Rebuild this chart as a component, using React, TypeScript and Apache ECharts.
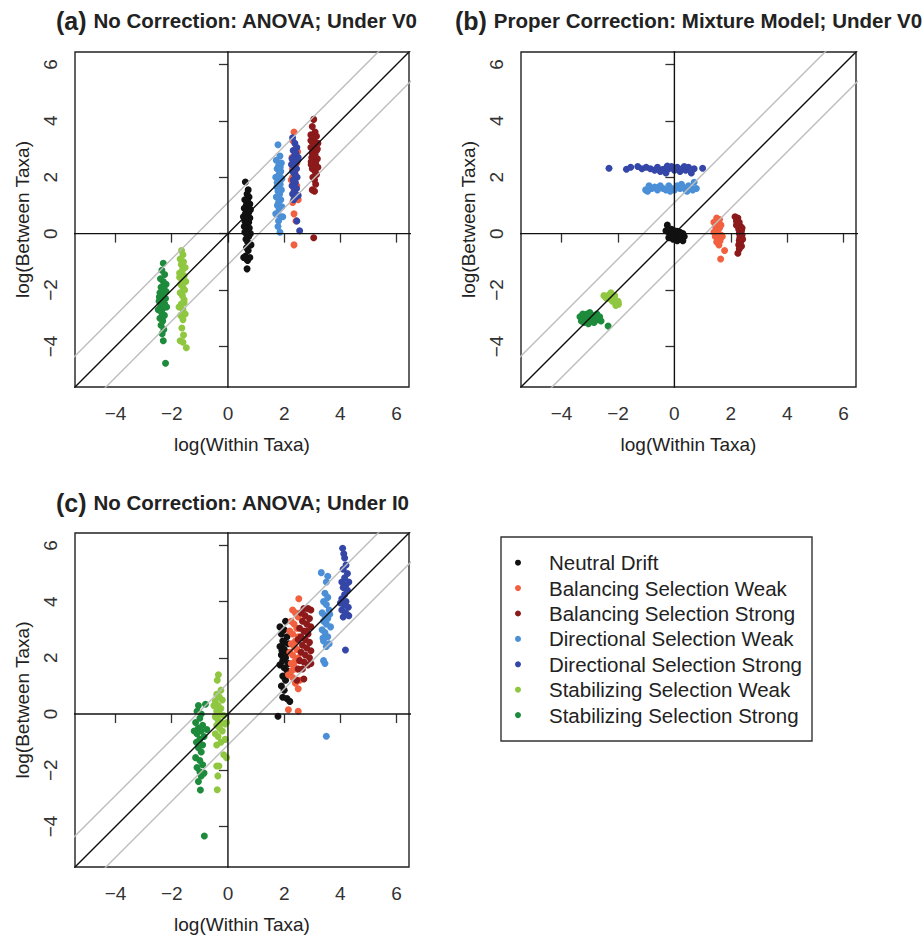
import React, { useEffect, useRef } from "react";
import * as echarts from "echarts";

const groupNames = [
  "Neutral Drift",
  "Balancing Selection Weak",
  "Balancing Selection Strong",
  "Directional Selection Weak",
  "Directional Selection Strong",
  "Stabilizing Selection Weak",
  "Stabilizing Selection Strong",
];
const groupColors = ["#111111", "#F1603F", "#8C1A1B", "#4B8FD6", "#3447A8", "#8FC741", "#1D8B3B"];

const tickValues = [-4, -2, 0, 2, 4, 6];
const axisMin = -5.44;
const axisMax = 6.44;

const panelTitles = [
  ["(a)", "No Correction: ANOVA; Under V0"],
  ["(b)", "Proper Correction: Mixture Model; Under V0"],
  ["(c)", "No Correction: ANOVA; Under I0"],
];
const xAxisName = "log(Within Taxa)";
const yAxisName = "log(Between Taxa)";

// reference lines (data coordinates, clipped by grid)
const diagLine = [[-8, -8], [8, 8]];
const upperLine = [[-8, -6.9], [8, 9.1]];
const lowerLine = [[-8, -9.1], [8, 6.9]];
const hLine = [[-8, 0], [8, 0]];
const vLine = [[0, -8], [0, 8]];

// ---------- Panel (a) ----------
const aNeutral = [[0.62,1.83],[0.72,1.55],[0.68,1.4],[0.75,1.3],[0.6,1.2],[0.7,1.15],[0.78,1.05],[0.65,1.0],[0.72,0.95],[0.58,0.9],[0.8,0.85],[0.66,0.8],[0.74,0.75],[0.62,0.7],[0.7,0.65],[0.55,0.6],[0.78,0.55],[0.68,0.5],[0.6,0.45],[0.74,0.4],[0.64,0.35],[0.7,0.3],[0.58,0.25],[0.76,0.2],[0.66,0.15],[0.72,0.1],[0.6,0.05],[0.8,0.0],[0.68,-0.05],[0.74,-0.1],[0.64,-0.2],[0.7,-0.3],[0.82,-0.4],[0.66,-0.5],[0.72,-0.6],[0.56,-0.85],[0.66,-0.9],[0.78,-0.85],[0.7,-0.95],[0.62,-0.8],[0.68,-1.25]];
const aBalWeak = [[2.35,3.6],[2.3,3.3],[2.4,3.0],[2.28,2.7],[2.45,2.5],[2.3,2.3],[2.4,2.1],[2.25,1.9],[2.45,1.7],[2.35,1.55],[2.4,1.4],[2.5,1.2],[2.3,1.1],[2.35,0.7],[2.42,0.45],[2.35,-0.4],[2.3,2.0],[2.48,2.9],[2.38,1.8],[2.32,2.55]];
const aBalStrong = [[3.05,4.05],[3.0,3.8],[3.1,3.6],[2.95,3.5],[3.15,3.45],[3.05,3.35],[3.0,3.25],[3.2,3.2],[3.1,3.1],[2.95,3.05],[3.05,3.0],[3.15,2.95],[3.0,2.85],[3.1,2.8],[2.98,2.7],[3.18,2.65],[3.05,2.6],[3.12,2.5],[2.96,2.45],[3.08,2.4],[3.2,2.35],[3.0,2.3],[3.1,2.2],[3.15,2.1],[3.02,2.0],[3.08,1.9],[3.12,1.75],[3.0,1.55],[3.08,1.5],[3.05,-0.15],[2.95,3.3],[3.18,3.0],[3.05,2.75],[2.96,2.55]];
const aDirWeak = [[1.78,3.15],[1.85,2.75],[1.72,2.6],[1.9,2.5],[1.8,2.4],[1.75,2.3],[1.88,2.2],[1.82,2.1],[1.7,2.0],[1.92,1.95],[1.8,1.85],[1.86,1.75],[1.74,1.65],[1.9,1.55],[1.78,1.5],[1.84,1.4],[1.72,1.3],[1.88,1.2],[1.8,1.1],[1.76,1.0],[1.92,0.95],[1.82,0.85],[1.7,0.7],[1.88,0.6],[1.8,0.45],[1.78,0.25],[1.85,0.05],[1.95,0.6],[1.75,1.8],[1.86,2.35]];
const aDirStrong = [[2.3,3.4],[2.38,3.2],[2.45,3.05],[2.32,2.95],[2.42,2.85],[2.36,2.75],[2.28,2.65],[2.48,2.6],[2.4,2.5],[2.34,2.4],[2.44,2.3],[2.3,2.2],[2.38,2.1],[2.46,2.0],[2.32,1.9],[2.4,1.8],[2.28,1.7],[2.44,1.6],[2.36,1.5],[2.3,1.4],[2.42,1.3],[2.34,1.2],[2.5,1.35],[2.45,0.45],[2.55,0.1],[2.5,2.7],[2.26,2.45]];
const aStabWeak = [[-1.65,-0.6],[-1.6,-0.75],[-1.7,-0.9],[-1.58,-1.0],[-1.66,-1.1],[-1.52,-1.2],[-1.62,-1.3],[-1.72,-1.4],[-1.56,-1.5],[-1.64,-1.6],[-1.5,-1.7],[-1.68,-1.8],[-1.6,-1.9],[-1.54,-2.0],[-1.7,-2.1],[-1.62,-2.2],[-1.56,-2.35],[-1.66,-2.5],[-1.74,-2.6],[-1.6,-2.7],[-1.52,-2.85],[-1.68,-2.9],[-1.6,-3.05],[-1.64,-3.35],[-1.58,-3.6],[-1.7,-3.8],[-1.6,-3.85],[-1.48,-4.05],[-1.56,-2.45],[-1.72,-1.55]];
const aStabStrong = [[-2.3,-1.05],[-2.35,-1.3],[-2.25,-1.45],[-2.4,-1.6],[-2.3,-1.7],[-2.2,-1.8],[-2.38,-1.9],[-2.28,-2.0],[-2.42,-2.1],[-2.32,-2.2],[-2.22,-2.3],[-2.45,-2.4],[-2.35,-2.45],[-2.25,-2.5],[-2.4,-2.6],[-2.3,-2.65],[-2.18,-2.6],[-2.48,-2.7],[-2.36,-2.8],[-2.26,-2.9],[-2.42,-3.0],[-2.32,-3.1],[-2.38,-3.25],[-2.28,-3.4],[-2.34,-3.55],[-2.3,-3.8],[-2.22,-4.6],[-2.44,-2.25],[-2.2,-2.05]];

// ---------- Panel (b) ----------
const bNeutral = [[-0.25,0.3],[-0.3,0.1],[-0.2,0.05],[-0.1,0.15],[0.0,0.1],[0.1,0.08],[0.2,0.05],[0.3,0.0],[-0.15,-0.05],[0.05,-0.1],[0.15,-0.12],[0.25,-0.2],[0.35,-0.1],[-0.05,-0.2],[0.1,-0.25],[-0.2,-0.15],[0.0,0.0],[0.2,-0.05],[0.3,-0.25],[-0.1,-0.1]];
const bBalWeak = [[1.5,0.55],[1.6,0.5],[1.4,0.4],[1.55,0.35],[1.45,0.25],[1.6,0.2],[1.5,0.1],[1.4,0.05],[1.55,0.0],[1.65,-0.05],[1.45,-0.1],[1.55,-0.15],[1.62,-0.25],[1.5,-0.3],[1.58,-0.4],[1.7,-0.1],[1.65,0.3],[1.78,-0.6],[1.64,-0.9],[1.48,0.45]];
const bBalStrong = [[2.15,0.6],[2.25,0.55],[2.2,0.45],[2.3,0.4],[2.25,0.3],[2.35,0.25],[2.28,0.15],[2.38,0.1],[2.3,0.0],[2.4,-0.05],[2.32,-0.15],[2.42,-0.2],[2.35,-0.3],[2.28,-0.4],[2.38,-0.45],[2.3,-0.55],[2.25,-0.7],[2.2,0.3],[2.4,0.2],[2.3,-0.25]];
const bDirWeak = [[-1.02,1.55],[-0.9,1.7],[-0.8,1.6],[-0.7,1.65],[-0.6,1.55],[-0.5,1.7],[-0.4,1.6],[-0.3,1.55],[-0.2,1.7],[-0.1,1.6],[0.0,1.55],[0.1,1.7],[0.2,1.6],[0.3,1.65],[0.4,1.55],[0.5,1.7],[0.6,1.6],[0.7,1.82],[0.78,1.6],[-0.95,1.5],[-0.55,1.65],[-0.15,1.5],[0.25,1.75],[0.45,1.5],[0.65,1.55]];
const bDirStrong = [[-2.32,2.32],[-1.7,2.28],[-1.55,2.35],[-1.3,2.38],[-1.15,2.3],[-1.0,2.35],[-0.85,2.3],[-0.7,2.25],[-0.6,2.35],[-0.5,2.2],[-0.4,2.28],[-0.3,2.15],[-0.2,2.3],[-0.1,2.38],[0.0,2.25],[0.1,2.35],[0.2,2.2],[0.3,2.32],[0.4,2.25],[0.5,2.35],[0.6,2.15],[0.7,2.3],[1.0,2.32],[-0.25,2.4],[0.35,2.38]];
const bStabWeak = [[-2.45,-2.25],[-2.35,-2.2],[-2.25,-2.1],[-2.3,-2.3],[-2.15,-2.25],[-2.2,-2.4],[-2.1,-2.35],[-2.05,-2.45],[-2.0,-2.4],[-1.98,-2.5],[-2.4,-2.3],[-2.28,-2.15],[-2.12,-2.2],[-2.18,-2.35],[-2.08,-2.55],[-2.5,-2.2]];
const bStabStrong = [[-3.35,-2.95],[-3.25,-2.85],[-3.15,-3.0],[-3.1,-2.85],[-3.0,-2.95],[-2.95,-3.1],[-2.9,-2.9],[-2.8,-3.0],[-2.7,-3.05],[-2.65,-2.95],[-3.2,-3.15],[-3.05,-3.2],[-2.85,-3.15],[-3.3,-3.1],[-2.35,-3.28],[-2.6,-3.1],[-3.0,-2.8],[-2.75,-2.85]];

// ---------- Panel (c) ----------
const cNeutral = [[1.85,3.1],[2.05,3.3],[2.0,3.0],[1.9,2.85],[2.1,2.75],[1.95,2.6],[2.15,2.5],[1.85,2.4],[2.0,2.3],[2.1,2.2],[1.9,2.1],[2.05,2.0],[1.95,1.9],[2.15,1.8],[1.85,1.75],[2.0,1.65],[2.1,1.55],[2.2,1.45],[1.95,1.35],[2.05,1.2],[1.9,1.0],[2.0,0.85],[1.95,0.6],[2.1,0.55],[2.2,0.45],[1.78,-0.08],[2.0,2.55],[1.92,2.25]];
const cBalWeak = [[2.52,4.1],[2.3,3.7],[2.4,3.6],[2.5,3.45],[2.25,3.3],[2.35,3.2],[2.45,3.05],[2.2,2.95],[2.3,2.85],[2.5,2.75],[2.4,2.6],[2.25,2.5],[2.35,2.4],[2.45,2.3],[2.2,2.2],[2.3,2.1],[2.5,2.0],[2.4,1.9],[2.25,1.8],[2.35,1.7],[2.45,1.6],[2.15,1.4],[2.3,1.3],[2.55,1.2],[2.4,1.1],[2.5,0.9],[2.15,0.15],[2.5,0.1],[2.28,1.55]];
const cBalStrong = [[2.7,3.75],[2.85,3.75],[2.95,3.7],[2.6,3.6],[2.75,3.5],[2.9,3.4],[2.65,3.3],[2.8,3.2],[2.95,3.1],[2.55,3.05],[2.7,2.95],[2.85,2.85],[2.6,2.75],[2.75,2.65],[2.9,2.55],[2.65,2.45],[2.8,2.35],[2.95,2.25],[2.6,2.2],[2.75,2.1],[2.9,2.0],[2.55,1.9],[2.7,1.85],[2.85,1.75],[2.65,1.6],[2.95,1.8],[2.5,1.6],[2.7,1.25],[2.45,1.2],[2.8,2.95],[2.5,2.65]];
const cDirWeak = [[3.32,5.03],[3.55,4.9],[3.5,4.7],[3.45,4.3],[3.55,4.15],[3.4,4.0],[3.5,3.9],[3.6,3.7],[3.35,3.6],[3.45,3.5],[3.55,3.4],[3.4,3.3],[3.5,3.2],[3.65,3.1],[3.35,3.0],[3.45,2.9],[3.55,2.75],[3.4,2.6],[3.6,2.5],[3.5,2.4],[3.4,1.9],[3.45,1.8],[3.5,-0.79],[3.62,3.55],[3.38,2.7]];
const cDirStrong = [[4.08,5.9],[4.12,5.7],[4.15,5.55],[4.2,5.3],[4.1,5.15],[4.25,5.0],[4.15,4.85],[4.05,4.7],[4.2,4.6],[4.1,4.5],[4.25,4.4],[4.15,4.25],[4.05,4.1],[4.2,4.0],[4.12,3.9],[4.28,3.8],[4.05,3.7],[4.18,3.6],[4.3,3.5],[4.1,3.45],[4.22,3.55],[4.0,3.95],[4.18,2.28],[4.3,4.7]];
const cStabWeak = [[-0.34,1.4],[-0.38,1.2],[-0.25,0.85],[-0.4,0.7],[-0.3,0.6],[-0.2,0.5],[-0.45,0.45],[-0.35,0.3],[-0.25,0.2],[-0.4,0.1],[-0.3,0.0],[-0.15,-0.05],[-0.45,-0.1],[-0.35,-0.2],[-0.25,-0.3],[-0.1,-0.35],[-0.4,-0.4],[-0.3,-0.5],[-0.2,-0.6],[-0.45,-0.7],[-0.35,-0.8],[-0.1,-0.9],[-0.25,-1.0],[-0.4,-1.1],[-0.15,-1.45],[-0.05,-1.55],[-0.32,-1.85],[-0.4,-1.85],[-0.36,-2.2],[-0.38,-2.69],[-0.05,-0.3],[-0.5,0.3]];
const cStabStrong = [[-1.05,0.3],[-0.8,0.35],[-1.1,0.1],[-0.95,0.0],[-1.0,-0.15],[-1.15,-0.3],[-0.9,-0.4],[-1.05,-0.5],[-0.95,-0.6],[-1.1,-0.7],[-0.85,-0.8],[-1.0,-0.9],[-1.12,-1.0],[-0.9,-1.1],[-1.05,-1.2],[-0.95,-1.35],[-1.15,-1.55],[-1.0,-1.65],[-0.9,-1.8],[-1.1,-1.9],[-1.0,-2.05],[-0.85,-2.1],[-0.95,-2.2],[-1.05,-2.4],[-0.98,-2.7],[-0.84,-4.34],[-1.2,-0.6],[-0.75,-0.55]];

const panels = [
  [aNeutral, aBalWeak, aBalStrong, aDirWeak, aDirStrong, aStabWeak, aStabStrong],
  [bNeutral, bBalWeak, bBalStrong, bDirWeak, bDirStrong, bStabWeak, bStabStrong],
  [cNeutral, cBalWeak, cBalStrong, cDirWeak, cDirStrong, cStabWeak, cStabStrong],
];

const FONT = "'Liberation Sans', Arial, Helvetica, sans-serif";

// layout
const grids = [
  { left: 75, top: 52, width: 334, height: 335 },
  { left: 521, top: 52, width: 335, height: 335 },
  { left: 75, top: 533, width: 334, height: 335 },
];
const titlePos = [
  { left: 56, top: 8 },
  { left: 455, top: 8 },
  { left: 56, top: 490 },
];

export default function App() {
  const ref = useRef<HTMLDivElement>(null);
  useEffect(() => {
    if (!ref.current) return;
    const chart = echarts.init(ref.current, null, { renderer: "svg" });

    const fmt = (v: number) => (v < 0 ? "\u2212" + Math.abs(v) : String(v));
    const xAxes: any[] = [];
    const yAxes: any[] = [];
    const series: any[] = [];
    grids.forEach((_, i) => {
      const common = {
        gridIndex: i,
        type: "value",
        min: axisMin,
        max: axisMax,
        nameLocation: "middle",
        nameTextStyle: { fontFamily: FONT, fontSize: 19, color: "#222" },
        axisLine: { show: false },
        splitLine: { show: false },
        axisTick: {
          show: true,
          length: 9,
          inside: false,
          customValues: tickValues,
          lineStyle: { color: "#333", width: 1.3 },
        },
      };
      xAxes.push({
        ...common,
        name: xAxisName,
        nameGap: 48,
        axisLabel: {
          customValues: tickValues,
          fontFamily: FONT,
          fontSize: 19,
          color: "#333",
          margin: 17,
          formatter: fmt,
        },
      });
      yAxes.push({
        ...common,
        name: yAxisName,
        nameGap: 43,
        axisLabel: {
          customValues: tickValues,
          rotate: 90,
          fontFamily: FONT,
          fontSize: 19,
          color: "#333",
          margin: 15,
          formatter: fmt,
        },
      });
      panels[i].forEach((pts, g) => {
        series.push({
          type: "scatter",
          name: groupNames[g],
          xAxisIndex: i,
          yAxisIndex: i,
          data: pts,
          symbol: "circle",
          symbolSize: 7,
          itemStyle: { color: groupColors[g], opacity: 1 },
          silent: true,
        });
      });
      const refs = [
        { d: upperLine, c: "#BDBDBD" },
        { d: lowerLine, c: "#BDBDBD" },
        { d: hLine, c: "#111" },
        { d: vLine, c: "#111" },
        { d: diagLine, c: "#111" },
      ];
      refs.forEach((r) => {
        series.push({
          type: "line",
          xAxisIndex: i,
          yAxisIndex: i,
          data: r.d,
          symbol: "none",
          clip: true,
          silent: true,
          lineStyle: { color: r.c, width: 1.4 },
        });
      });
    });

    chart.setOption({
      animation: false,
      backgroundColor: "#ffffff",
      textStyle: { fontFamily: FONT },
      title: panelTitles.map((t, i) => ({
        ...titlePos[i],
        padding: 0,
        text: `{p|${t[0]} }{t|${t[1]}}`,
        textStyle: {
          rich: {
            p: { fontFamily: FONT, fontSize: 25, fontWeight: "bold", color: "#222" },
            t: { fontFamily: FONT, fontSize: 20.5, fontWeight: "bold", color: "#222" },
          },
        },
      })),
      grid: grids.map((g) => ({
        ...g,
        show: true,
        borderColor: "#222",
        borderWidth: 1.4,
        backgroundColor: "transparent",
        containLabel: false,
      })),
      xAxis: xAxes,
      yAxis: yAxes,
      legend: {
        data: groupNames,
        orient: "vertical",
        left: 515,
        top: 550,
        padding: 0,
        itemGap: 0,
        itemWidth: 36,
        itemHeight: 6,
        icon: "circle",
        selectedMode: false,
        textStyle: {
          fontFamily: FONT,
          fontSize: 20.5,
          color: "#222",
          lineHeight: 25.4,
          padding: [0, 0, 0, 8],
        },
      },
      graphic: [
        {
          type: "rect",
          shape: { x: 501, y: 537, width: 311, height: 204 },
          style: { fill: "none", stroke: "#333", lineWidth: 1.4 },
          silent: true,
        },
      ],
      series,
    });
    return () => chart.dispose();
  }, []);
  return (
    <div
      ref={ref}
      style={{ position: "fixed", left: 0, top: 0, width: 924, height: 935, background: "#fff" }}
    />
  );
}
